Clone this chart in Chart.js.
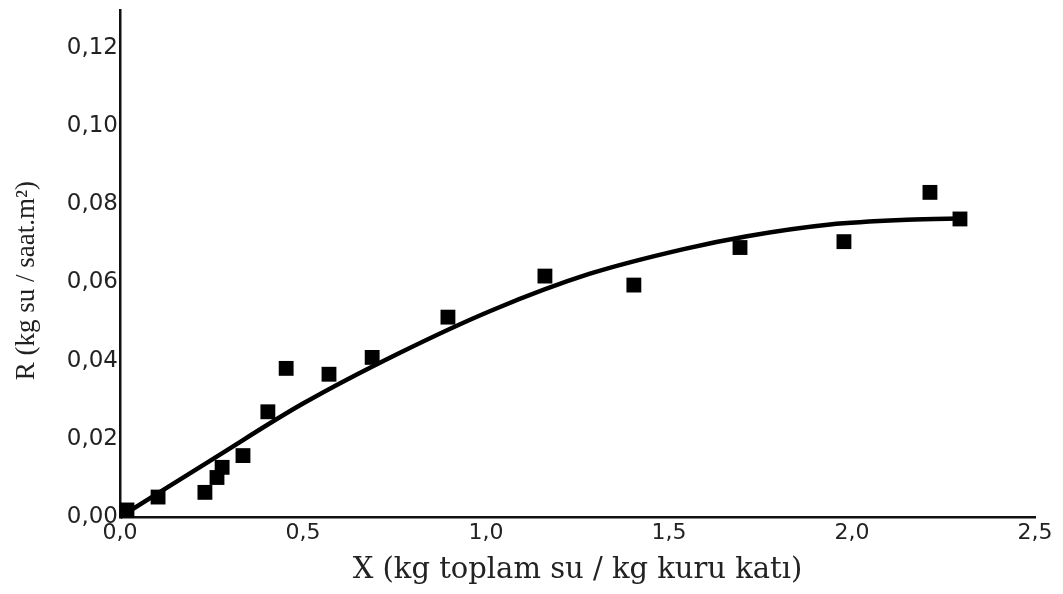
<!DOCTYPE html>
<html>
<head>
<meta charset="utf-8">
<script src="https://cdn.jsdelivr.net/npm/chart.js@4.4.1/dist/chart.umd.min.js"></script>
<style>
  html, body { margin: 0; padding: 0; background: #fff; }
  #wrap { width: 1063px; height: 594px; }
</style>
</head>
<body>
<div id="wrap"><canvas id="c" width="1063" height="594"></canvas></div>
<script>
// Measured data points (X, R)
const measuredX = [0.019, 0.104, 0.232, 0.265, 0.279, 0.336, 0.404, 0.454, 0.571, 0.689, 0.896, 1.161, 1.404, 1.694, 1.978, 2.213, 2.295];
const measuredR = [0.0018, 0.0051, 0.0063, 0.0101, 0.0127, 0.0157, 0.0269, 0.0380, 0.0365, 0.0408, 0.0511, 0.0616, 0.0593, 0.0689, 0.0704, 0.0830, 0.0762];

// Fitted curve
const curveX = [0.0, 0.26, 0.5, 0.765, 1.02, 1.284, 1.54, 1.713, 1.94, 2.15, 2.314];
const curveR = [0.0, 0.0152, 0.0290, 0.0420, 0.0530, 0.0622, 0.0685, 0.0718, 0.0748, 0.0760, 0.0764];

// Tick values and labels
const xTickValues = [0, 0.5, 1.0, 1.5, 2.0, 2.5];
const xTickLabels = ['0,0', '0,5', '1,0', '1,5', '2,0', '2,5'];
const yTickValues = [0, 0.02, 0.04, 0.06, 0.08, 0.10, 0.12];
const yTickLabels = ['0,00', '0,02', '0,04', '0,06', '0,08', '0,10', '0,12'];

const xTitle = 'X (kg toplam su / kg kuru katı)';
const yTitle = 'R (kg su / saat.m²)';

const toPoints = (xs, ys) => xs.map((x, i) => ({ x: x, y: ys[i] }));

const ctx = document.getElementById('c').getContext('2d');
new Chart(ctx, {
  type: 'scatter',
  data: {
    datasets: [
      {
        label: 'Fit',
        data: toPoints(curveX, curveR),
        showLine: true,
        borderColor: '#000',
        borderWidth: 4.5,
        pointRadius: 0,
        cubicInterpolationMode: 'monotone',
        fill: false,
        clip: false,
        order: 2
      },
      {
        label: 'Deney',
        data: toPoints(measuredX, measuredR),
        pointStyle: 'rect',
        pointRadius: 10.5,
        backgroundColor: '#000',
        borderColor: '#000',
        borderWidth: 0,
        clip: false,
        order: 1
      }
    ]
  },
  options: {
    responsive: false,
    animation: false,
    devicePixelRatio: 1,
    layout: { padding: { left: 7, right: 28, top: 1, bottom: 2 } },
    plugins: { legend: { display: false }, tooltip: { enabled: false } },
    scales: {
      x: {
        type: 'linear',
        min: 0, max: 2.5,
        afterBuildTicks: s => { s.ticks = xTickValues.map(v => ({ value: v })); },
        afterFit: s => { s.height = 75; s.paddingLeft = 0; s.paddingRight = 0; },
        grid: { display: false, drawTicks: false },
        border: { display: true, color: '#111', width: 2.5 },
        ticks: {
          padding: 3,
          color: '#222',
          font: { family: '"DejaVu Sans", "Liberation Sans", sans-serif', size: 22 },
          maxRotation: 0,
          callback: (v) => { const i = xTickValues.findIndex(t => Math.abs(t - v) < 1e-9); return i >= 0 ? xTickLabels[i] : ''; }
        },
        title: {
          display: true,
          text: xTitle,
          color: '#222',
          padding: { top: 0, bottom: 4 },
          font: { family: '"DejaVu Serif", "Liberation Serif", serif', size: 29 }
        }
      },
      y: {
        type: 'linear',
        min: 0, max: 0.1295,
        afterBuildTicks: s => { s.ticks = yTickValues.map(v => ({ value: v })); },
        afterFit: s => { s.width = 113; s.paddingTop = 0; s.paddingBottom = 0; },
        grid: { display: false, drawTicks: false },
        border: { display: true, color: '#111', width: 2.5 },
        ticks: {
          padding: 2,
          color: '#222',
          font: { family: '"DejaVu Sans", "Liberation Sans", sans-serif', size: 23 },
          callback: (v) => { const i = yTickValues.findIndex(t => Math.abs(t - v) < 1e-9); return i >= 0 ? yTickLabels[i] : ''; }
        },
        title: {
          display: true,
          text: yTitle + '     ',
          color: '#222',
          padding: { top: 4, bottom: 0 },
          font: { family: '"Liberation Serif", "Times New Roman", serif', size: 27 }
        }
      }
    }
  }
});
</script>
</body>
</html>
